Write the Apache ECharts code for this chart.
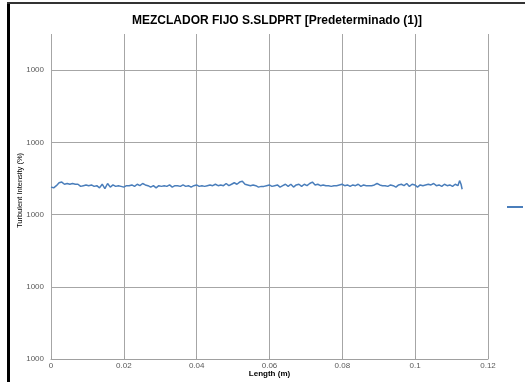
<!DOCTYPE html>
<html>
<head>
<meta charset="utf-8">
<script src="https://cdn.jsdelivr.net/npm/echarts@6/dist/echarts.min.js"></script>
<style>html,body{margin:0;padding:0;background:#fff}#c{width:525px;height:382px}</style>
</head>
<body>
<div id="c"></div>
<script>
const chartTitle = 'MEZCLADOR FIJO S.SLDPRT [Predeterminado (1)]';
const seriesName = 'Turbulent Intensity (%)';
const xTickLabels = ['0', '0.02', '0.04', '0.06', '0.08', '0.1', '0.12'];
const yTickLabels = ['1000', '1000', '1000', '1000', '1000'];
const lengths = [
  0, 0.00074, 0.00148, 0.00222, 0.00296, 0.0037, 0.00444, 0.00518, 0.00592, 0.00666,
  0.0074, 0.00814, 0.00888, 0.00962, 0.01036, 0.0111, 0.01184, 0.01258, 0.01332, 0.01406,
  0.0148, 0.01554, 0.01628, 0.01702, 0.01776, 0.0185, 0.01924, 0.01998, 0.02072, 0.02146,
  0.0222, 0.02294, 0.02368, 0.02442, 0.02516, 0.0259, 0.02664, 0.02738, 0.02812, 0.02886,
  0.0296, 0.03034, 0.03108, 0.03182, 0.03256, 0.0333, 0.03404, 0.03478, 0.03552, 0.03626,
  0.037, 0.03774, 0.03848, 0.03922, 0.03996, 0.0407, 0.04144, 0.04218, 0.04292, 0.04366,
  0.0444, 0.04514, 0.04588, 0.04662, 0.04736, 0.0481, 0.04884, 0.04958, 0.05032, 0.05106,
  0.0518, 0.05254, 0.05328, 0.05402, 0.05476, 0.0555, 0.05624, 0.05698, 0.05772, 0.05846,
  0.0592, 0.05994, 0.06068, 0.06142, 0.06216, 0.0629, 0.06364, 0.06438, 0.06512, 0.06586,
  0.0666, 0.06734, 0.06808, 0.06882, 0.06956, 0.0703, 0.07104, 0.07178, 0.07252, 0.07326,
  0.074, 0.07474, 0.07548, 0.07622, 0.07696, 0.0777, 0.07844, 0.07918, 0.07992, 0.08066,
  0.0814, 0.08214, 0.08288, 0.08362, 0.08436, 0.0851, 0.08584, 0.08658, 0.08732, 0.08806,
  0.0888, 0.08954, 0.09028, 0.09102, 0.09176, 0.0925, 0.09324, 0.09398, 0.09472, 0.09546,
  0.0962, 0.09694, 0.09768, 0.09842, 0.09916, 0.0999, 0.10064, 0.10138, 0.10212, 0.10286,
  0.1036, 0.10434, 0.10508, 0.10582, 0.10656, 0.1073, 0.10804, 0.10878, 0.10952, 0.11026,
  0.111, 0.11174, 0.1122, 0.1126, 0.1129
];
const intensity = [
  2.38, 2.37, 2.40, 2.44, 2.45, 2.42, 2.43, 2.42, 2.43, 2.42,
  2.42, 2.39, 2.40, 2.41, 2.40, 2.41, 2.39, 2.40, 2.37, 2.42,
  2.36, 2.43, 2.38, 2.41, 2.39, 2.40, 2.39, 2.38, 2.40, 2.40,
  2.41, 2.39, 2.42, 2.40, 2.43, 2.41, 2.40, 2.38, 2.40, 2.37,
  2.40, 2.39, 2.40, 2.39, 2.41, 2.38, 2.40, 2.40, 2.39, 2.41,
  2.39, 2.40, 2.38, 2.40, 2.41, 2.39, 2.40, 2.39, 2.40, 2.41,
  2.40, 2.42, 2.40, 2.41, 2.40, 2.43, 2.40, 2.42, 2.44, 2.42,
  2.45, 2.46, 2.42, 2.41, 2.40, 2.41, 2.40, 2.38, 2.39, 2.39,
  2.40, 2.41, 2.39, 2.40, 2.41, 2.38, 2.40, 2.42, 2.39, 2.42,
  2.38, 2.41, 2.42, 2.39, 2.42, 2.40, 2.43, 2.45, 2.41, 2.42,
  2.40, 2.41, 2.40, 2.40, 2.39, 2.40, 2.40, 2.41, 2.42, 2.40,
  2.41, 2.39, 2.41, 2.40, 2.42, 2.39, 2.41, 2.40, 2.40, 2.40,
  2.41, 2.43, 2.41, 2.40, 2.40, 2.39, 2.41, 2.40, 2.38, 2.41,
  2.42, 2.40, 2.43, 2.39, 2.42, 2.41, 2.38, 2.41, 2.40, 2.41,
  2.42, 2.41, 2.43, 2.40, 2.41, 2.39, 2.42, 2.40, 2.41, 2.39,
  2.42, 2.40, 2.47, 2.42, 2.35
];

const points = lengths.map((x, i) => [x, intensity[i]]);
const chart = echarts.init(document.getElementById('c'), null, { renderer: 'canvas' });
const labelFont = { fontFamily: 'Liberation Sans', fontSize: 8, color: '#595959' };
chart.setOption({
  animation: false,
  backgroundColor: '#ffffff',
  title: {
    text: chartTitle, left: 272, top: 10, textAlign: 'center',
    textStyle: { fontFamily: 'Liberation Sans', fontWeight: 'bold', fontSize: 12, color: '#000' }
  },
  legend: {
    left: 507, top: 203, padding: 0, icon: 'rect', itemWidth: 16, itemHeight: 2,
    textStyle: { fontFamily: 'Liberation Sans', fontSize: 8, color: '#595959' },
    data: [seriesName]
  },
  grid: { left: 51, right: 37, top: 34, bottom: 23, containLabel: false, outerBoundsMode: 'none' },
  xAxis: {
    type: 'value', min: 0, max: 0.12, interval: 0.02,
    name: 'Length (m)', nameLocation: 'middle', nameGap: 11, nameMoveOverlap: false,
    nameTextStyle: { fontFamily: 'Liberation Sans', fontSize: 8, fontWeight: 'bold', color: '#000' },
    axisLine: { show: true, lineStyle: { color: '#a0a0a0', width: 1 } },
    axisTick: { show: true, length: 3, inside: true, lineStyle: { color: '#a0a0a0' } },
    axisLabel: Object.assign({ margin: 3, formatter: (v) => xTickLabels[Math.round(v / 0.02)] }, labelFont),
    splitLine: { show: true, lineStyle: { color: '#a6a6a6', width: 1 } }
  },
  yAxis: {
    type: 'value', min: 0, max: 4.5, interval: 1,
    name: seriesName, nameLocation: 'middle', nameGap: 27, nameRotate: 90, nameMoveOverlap: false,
    nameTextStyle: { fontFamily: 'Liberation Sans', fontSize: 7.5, color: '#000', padding: [0, 0, 0, 12] },
    axisLine: { show: false },
    axisTick: { show: false },
    axisLabel: Object.assign({ margin: 7, showMaxLabel: false, formatter: (v) => (Number.isInteger(v) ? yTickLabels[v] : '') }, labelFont),
    splitLine: { show: true, showMaxLine: false, lineStyle: { color: '#a6a6a6', width: 1 } }
  },
  graphic: [
    { type: 'rect', shape: { x: 7, y: 3, width: 3, height: 379 }, style: { fill: '#000' }, silent: true },
    { type: 'rect', shape: { x: 7, y: 2, width: 518, height: 2 }, style: { fill: '#333' }, silent: true }
  ],
  series: [{
    name: seriesName, type: 'line', data: points,
    showSymbol: false, symbol: 'none',
    lineStyle: { color: '#4a7ebb', width: 1.5 },
    itemStyle: { color: '#4a7ebb' }
  }]
});
</script>
</body>
</html>
